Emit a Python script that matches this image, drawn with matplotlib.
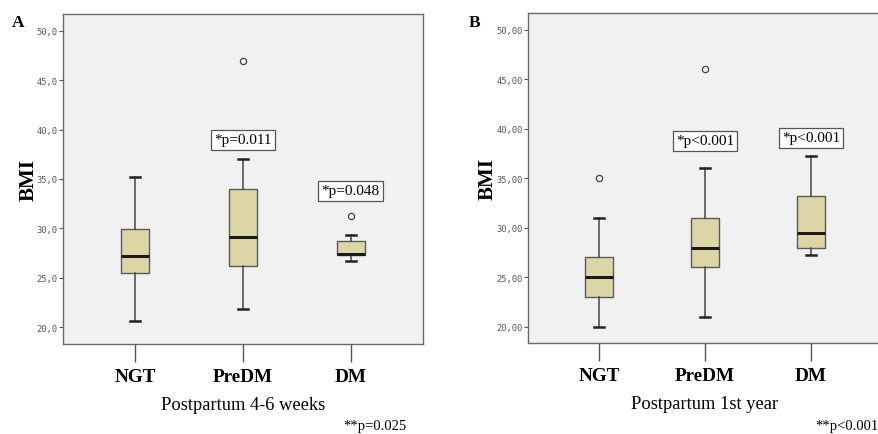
import matplotlib
matplotlib.use("Agg")
import matplotlib.pyplot as plt
from matplotlib.ticker import FuncFormatter

categories = ["NGT", "PreDM", "DM"]

# Panel A: Postpartum 4-6 weeks  (whislo, q1, med, q3, whishi)
a_whislo = [20.6, 21.8, 26.7]
a_q1     = [25.5, 26.15, 27.3]
a_med    = [27.2, 29.15, 27.45]
a_q3     = [29.9, 34.0, 28.75]
a_whishi = [35.2, 37.0, 29.35]
a_fliers = [[], [46.9], [31.25]]
a_ptext  = ["", "*p=0.011", "*p=0.048"]
a_py     = [None, 38.95, 33.8]

# Panel B: Postpartum 1st year
b_whislo = [20.0, 21.0, 27.25]
b_q1     = [23.0, 26.0, 28.0]
b_med    = [25.0, 28.0, 29.5]
b_q3     = [27.0, 31.0, 33.2]
b_whishi = [31.0, 36.0, 37.2]
b_fliers = [[35.0], [46.0], []]
b_ptext  = ["", "*p<0.001", "*p<0.001"]
b_py     = [None, 38.8, 39.1]

yticks = [20, 25, 30, 35, 40, 45, 50]

SERIF = ["Liberation Serif", "DejaVu Serif"]

fig = plt.figure(figsize=(8.79, 4.35), dpi=100)
fig.patch.set_facecolor("white")

def draw(ax, whislo, q1, med, q3, whishi, fliers, ptext, py, ylim, fmt, xlabel, ylab_x):
    stats = []
    for i, c in enumerate(categories):
        stats.append(dict(label=c, whislo=whislo[i], q1=q1[i], med=med[i],
                          q3=q3[i], whishi=whishi[i], fliers=fliers[i]))
    ax.set_facecolor("#f1f1f1")
    ax.bxp(stats, positions=[1, 2, 3], widths=0.255, patch_artist=True,
           boxprops=dict(facecolor="#dcd6a6", edgecolor="#5a5a5a", linewidth=1.0),
           medianprops=dict(color="#1a1a1a", linewidth=2.2),
           whiskerprops=dict(color="#444444", linewidth=1.1),
           capprops=dict(color="#222222", linewidth=1.8),
           capwidths=0.09,
           flierprops=dict(marker="o", markersize=4.5, markerfacecolor="none",
                           markeredgecolor="#444444", markeredgewidth=0.9))
    ax.set_xlim(0.33, 3.67)
    ax.set_ylim(*ylim)
    ax.set_yticks(yticks)
    ax.yaxis.set_major_formatter(FuncFormatter(fmt))
    ax.tick_params(axis="y", length=3, width=0.8, color="#555555",
                   labelsize=6.3, labelcolor="#555555", pad=1)
    for lab in ax.get_yticklabels():
        lab.set_family("DejaVu Sans Mono")
    ax.set_xticks([1, 2, 3])
    ax.set_xticklabels(categories, family=SERIF, fontweight="bold", fontsize=13.8)
    ax.tick_params(axis="x", length=13, width=1.0, color="#555555", pad=4)
    for s in ax.spines.values():
        s.set_color("#6a6a6a")
        s.set_linewidth(1.0)
    ax.set_ylabel("BMI", family=SERIF, fontweight="bold", fontsize=15)
    ax.yaxis.set_label_coords(ylab_x, 0.5)
    ax.set_xlabel(xlabel, family=SERIF, fontsize=13.3, labelpad=8)
    for i, t in enumerate(ptext):
        if t:
            ax.text(i + 1, py[i], t, ha="center", va="center", family=SERIF,
                    fontsize=11,
                    bbox=dict(boxstyle="square,pad=0.22", facecolor="white",
                              edgecolor="#555555", linewidth=0.9))

axA = fig.add_axes([63 / 879, 90 / 435, 360 / 879, 330 / 435])
draw(axA, a_whislo, a_q1, a_med, a_q3, a_whishi, a_fliers, a_ptext, a_py,
     (18.3, 51.7), lambda v, p: f"{v:.1f}".replace(".", ","), "Postpartum 4-6 weeks",
     -0.069)

axB = fig.add_axes([528 / 879, 91 / 435, 354 / 879, 330 / 435])
draw(axB, b_whislo, b_q1, b_med, b_q3, b_whishi, b_fliers, b_ptext, b_py,
     (18.35, 51.7), lambda v, p: f"{v:.2f}".replace(".", ","), "Postpartum 1st year",
     -0.085)

fig.text(12 / 879, 1 - 23 / 435, "A", family=SERIF, fontweight="bold", fontsize=12.5,
         va="center", ha="left")
fig.text(469 / 879, 1 - 23 / 435, "B", family=SERIF, fontweight="bold", fontsize=12.5,
         va="center", ha="left")
fig.text(407 / 879, 1 - 427 / 435, "**p=0.025", family=SERIF, fontsize=10.5,
         va="center", ha="right")
fig.text(879 / 879, 1 - 427 / 435, "**p<0.001", family=SERIF, fontsize=10.5,
         va="center", ha="right")

fig.savefig("out.png", dpi=100)
